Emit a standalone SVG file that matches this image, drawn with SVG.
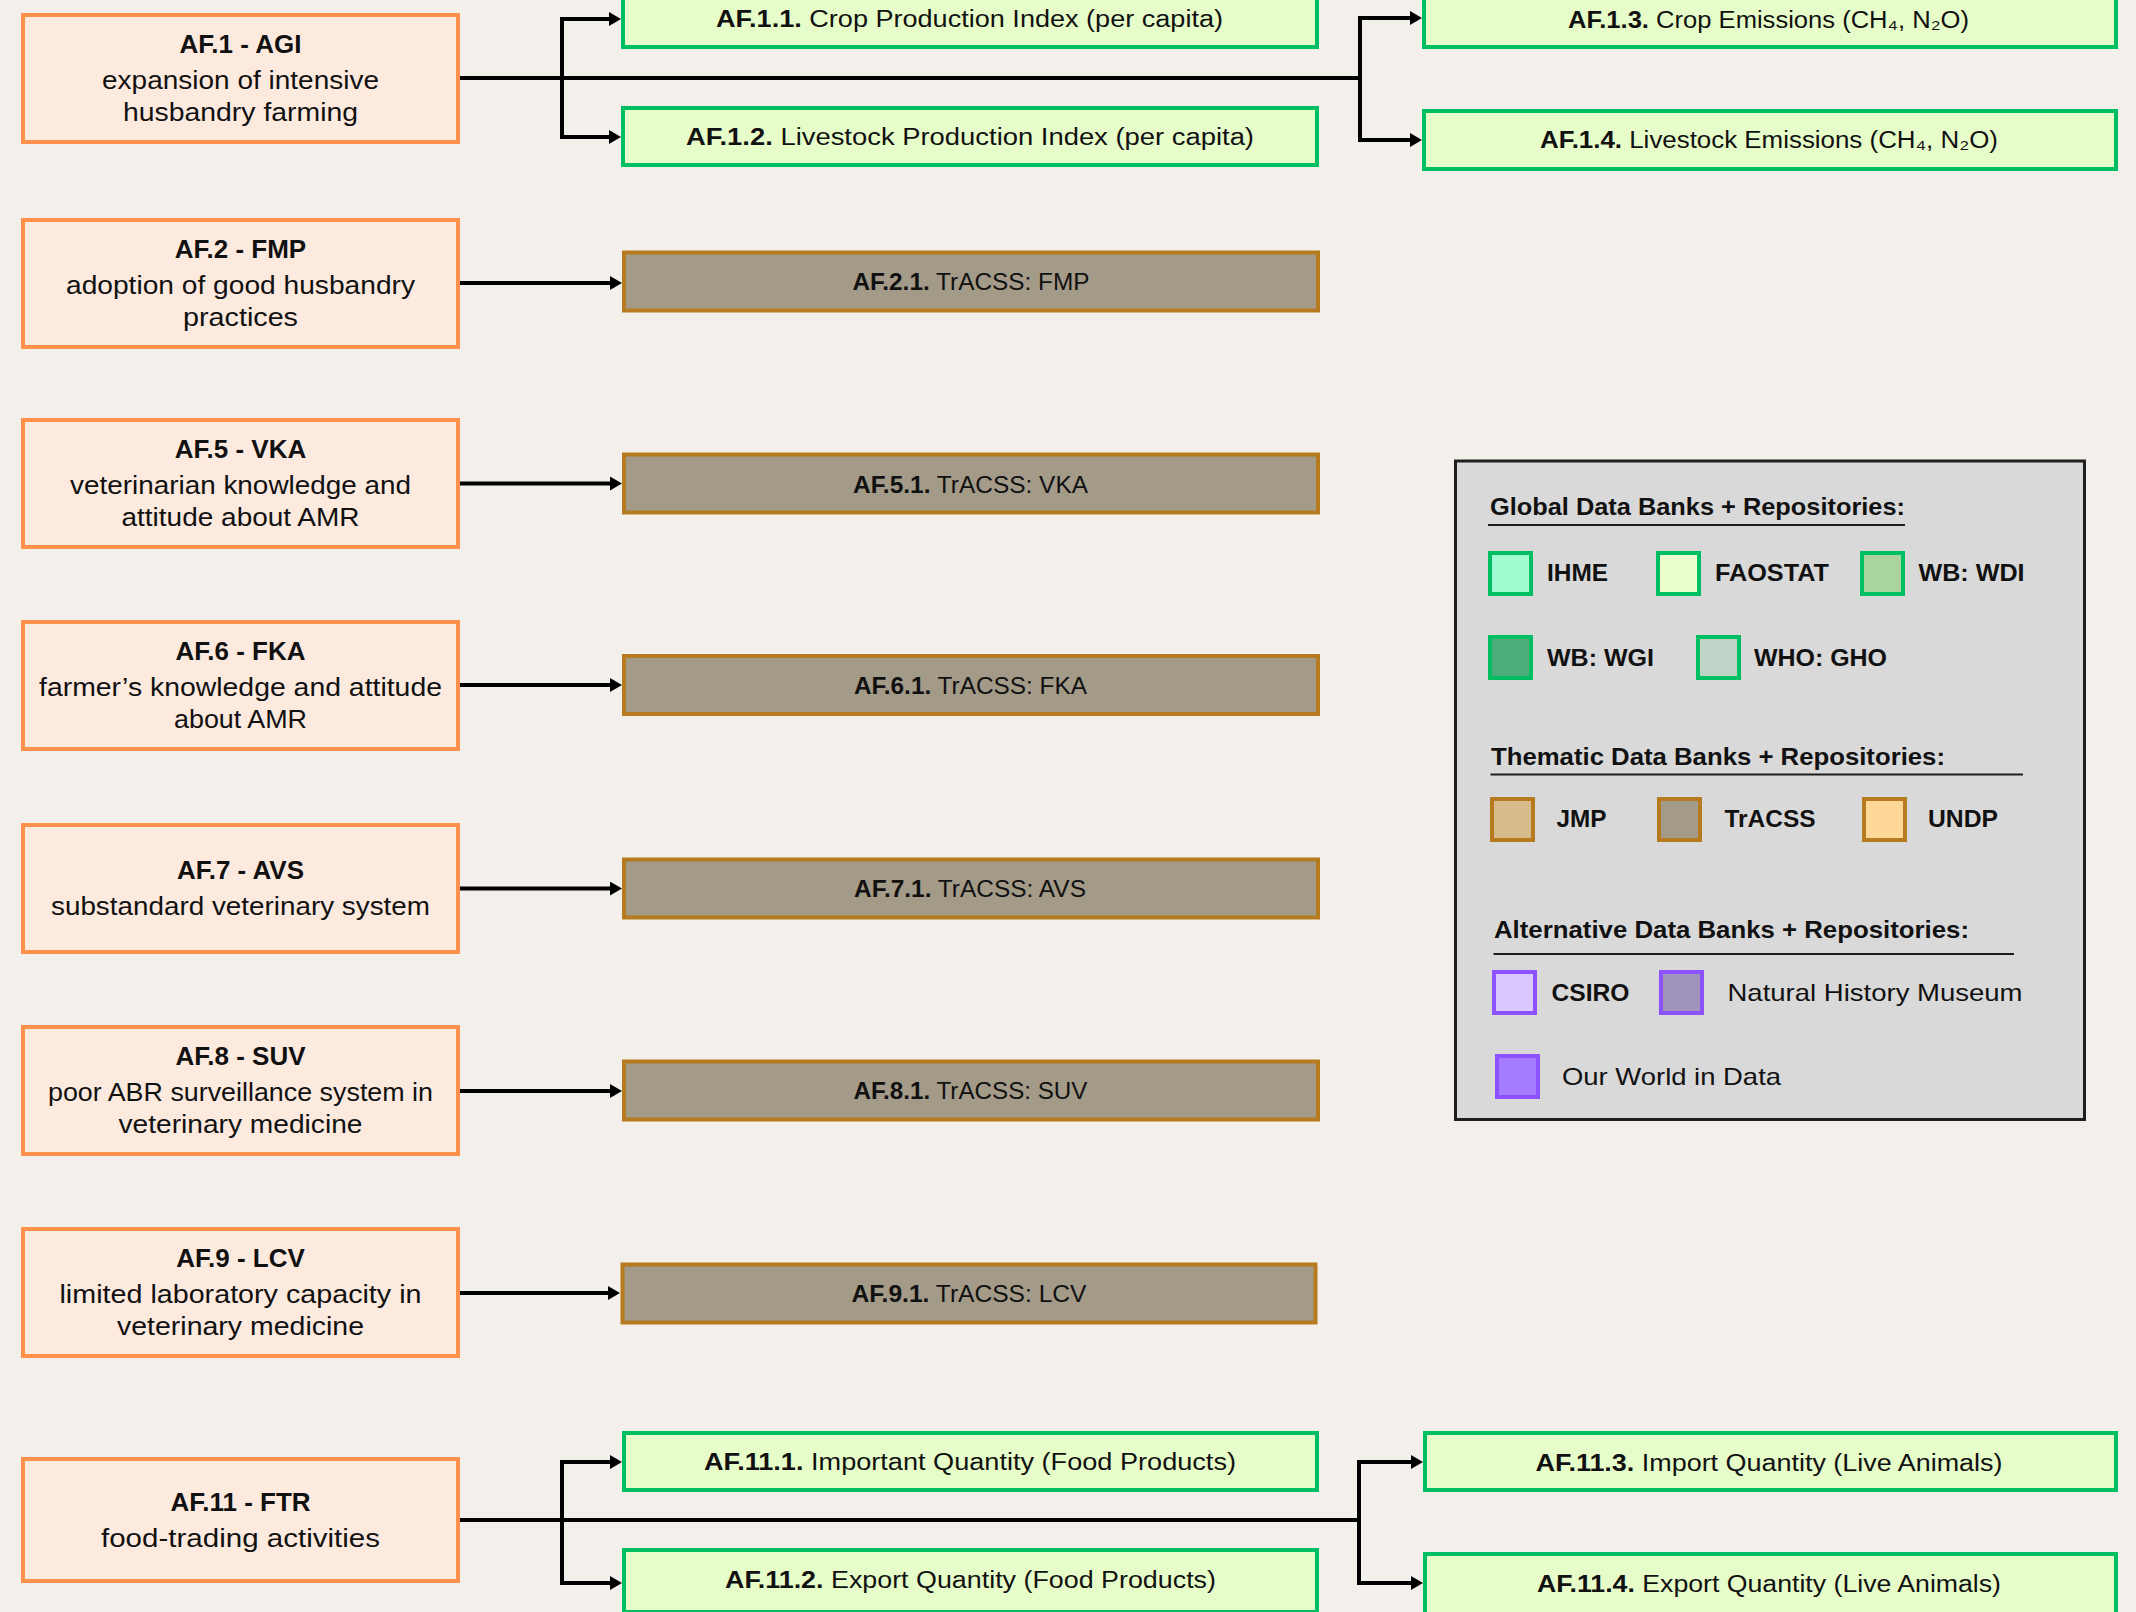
<svg xmlns="http://www.w3.org/2000/svg" width="2136" height="1612" viewBox="0 0 2136 1612">
<defs>
<style>
.bg{fill:#f3f0eb}
.src{fill:#fdeadf;stroke:#ff914d;stroke-width:4}
.fao{fill:#e7fdc9;stroke:#00bf63;stroke-width:4}
.tra{fill:#a39a88;stroke:#b67b1f;stroke-width:4}
.t{font-family:"Liberation Sans",Arial,sans-serif;fill:#111}
.ttl{font-size:26px;font-weight:bold;text-anchor:middle}
.body{font-size:26px;text-anchor:middle}
.ind{font-size:23px;text-anchor:middle}
.b{font-weight:bold}
.conn{fill:none;stroke:#000;stroke-width:4}
.arr{marker-end:url(#ah)}
.arr2{marker-start:url(#ah);marker-end:url(#ah)}
.leg{fill:#d9d9d9;stroke:#1e1e1e;stroke-width:3}
.lh{font-size:24px;font-weight:bold}
.ll{font-size:23px;font-weight:bold}
.lr{font-size:24px}
.ul{stroke:#1e1e1e;stroke-width:2}
.sg{stroke:#00bf63;stroke-width:4}
.sb{stroke:#b67b1f;stroke-width:4}
.sp{stroke:#8c52ff;stroke-width:4}
</style>
<marker id="ah" markerUnits="userSpaceOnUse" viewBox="0 0 12 14" markerWidth="12" markerHeight="14" refX="2" refY="7" orient="auto-start-reverse">
<path d="M0,0 L12,7 L0,14 z" fill="#000"/>
</marker>
</defs>
<rect class="bg" x="0" y="0" width="2136" height="1612"/>

<g id="connectors">
<path class="conn" d="M460,78 H1360"/>
<path class="conn arr2" d="M611,19 H562 V137 H611"/>
<path class="conn arr2" d="M1412,18 H1360 V140 H1412"/>
<path class="conn arr" d="M460,283 H612"/>
<path class="conn arr" d="M460,483.5 H612"/>
<path class="conn arr" d="M460,685 H612"/>
<path class="conn arr" d="M460,888.5 H612"/>
<path class="conn arr" d="M460,1091 H612"/>
<path class="conn arr" d="M459,1293 H610"/>
<path class="conn" d="M459,1520 H1359"/>
<path class="conn arr2" d="M612,1462 H562 V1583 H612"/>
<path class="conn arr2" d="M1413,1462 H1359 V1583 H1413"/>
</g>

<g id="AF1">
<rect class="src" x="23" y="15" width="435" height="127"/>
<text class="t ttl" x="240.5" y="53">AF.1 - AGI</text>
<text class="t body" x="240.5" y="89" textLength="277" lengthAdjust="spacingAndGlyphs">expansion of intensive</text>
<text class="t body" x="240.5" y="121" textLength="235" lengthAdjust="spacingAndGlyphs">husbandry farming</text>
</g>
<g id="AF2">
<rect class="src" x="23" y="220" width="435" height="127"/>
<text class="t ttl" x="240.5" y="258">AF.2 - FMP</text>
<text class="t body" x="240.5" y="294" textLength="349" lengthAdjust="spacingAndGlyphs">adoption of good husbandry</text>
<text class="t body" x="240.5" y="326" textLength="115" lengthAdjust="spacingAndGlyphs">practices</text>
</g>
<g id="AF5">
<rect class="src" x="23" y="420" width="435" height="127"/>
<text class="t ttl" x="240.5" y="458">AF.5 - VKA</text>
<text class="t body" x="240.5" y="494" textLength="341" lengthAdjust="spacingAndGlyphs">veterinarian knowledge and</text>
<text class="t body" x="240.5" y="526" textLength="238" lengthAdjust="spacingAndGlyphs">attitude about AMR</text>
</g>
<g id="AF6">
<rect class="src" x="23" y="622" width="435" height="127"/>
<text class="t ttl" x="240.5" y="660">AF.6 - FKA</text>
<text class="t body" x="240.5" y="696" textLength="403" lengthAdjust="spacingAndGlyphs">farmer’s knowledge and attitude</text>
<text class="t body" x="240.5" y="728" textLength="133" lengthAdjust="spacingAndGlyphs">about AMR</text>
</g>
<g id="AF7">
<rect class="src" x="23" y="825" width="435" height="127"/>
<text class="t ttl" x="240.5" y="879">AF.7 - AVS</text>
<text class="t body" x="240.5" y="915" textLength="379" lengthAdjust="spacingAndGlyphs">substandard veterinary system</text>
</g>
<g id="AF8">
<rect class="src" x="23" y="1027" width="435" height="127"/>
<text class="t ttl" x="240.5" y="1065">AF.8 - SUV</text>
<text class="t body" x="240.5" y="1101" textLength="385" lengthAdjust="spacingAndGlyphs">poor ABR surveillance system in</text>
<text class="t body" x="240.5" y="1133" textLength="244" lengthAdjust="spacingAndGlyphs">veterinary medicine</text>
</g>
<g id="AF9">
<rect class="src" x="23" y="1229" width="435" height="127"/>
<text class="t ttl" x="240.5" y="1267">AF.9 - LCV</text>
<text class="t body" x="240.5" y="1303" textLength="362" lengthAdjust="spacingAndGlyphs">limited laboratory capacity in</text>
<text class="t body" x="240.5" y="1335" textLength="247" lengthAdjust="spacingAndGlyphs">veterinary medicine</text>
</g>
<g id="AF11">
<rect class="src" x="23" y="1459" width="435" height="122"/>
<text class="t ttl" x="240.5" y="1511">AF.11 - FTR</text>
<text class="t body" x="240.5" y="1547" textLength="279" lengthAdjust="spacingAndGlyphs">food-trading activities</text>
</g>

<g id="AF1.1">
<rect class="fao" x="623" y="-11" width="694" height="58"/>
<text class="t ind" x="969.5" y="27" textLength="507" lengthAdjust="spacingAndGlyphs"><tspan class="b">AF.1.1.</tspan> Crop Production Index (per capita)</text>
</g>
<g id="AF1.2">
<rect class="fao" x="623" y="108" width="694" height="57"/>
<text class="t ind" x="970" y="145" textLength="568" lengthAdjust="spacingAndGlyphs"><tspan class="b">AF.1.2.</tspan> Livestock Production Index (per capita)</text>
</g>
<g id="AF1.3">
<rect class="fao" x="1424" y="-11" width="692" height="58"/>
<text class="t ind" x="1768.5" y="28" textLength="401" lengthAdjust="spacingAndGlyphs"><tspan class="b">AF.1.3.</tspan> Crop Emissions (CH₄, N₂O)</text>
</g>
<g id="AF1.4">
<rect class="fao" x="1424" y="111" width="692" height="58"/>
<text class="t ind" x="1769" y="148" textLength="458" lengthAdjust="spacingAndGlyphs"><tspan class="b">AF.1.4.</tspan> Livestock Emissions (CH₄, N₂O)</text>
</g>

<g id="AF2.1">
<rect class="tra" x="624" y="252.5" width="694" height="58"/>
<text class="t ind" x="971" y="290" textLength="237" lengthAdjust="spacingAndGlyphs"><tspan class="b">AF.2.1.</tspan> TrACSS: FMP</text>
</g>
<g id="AF5.1">
<rect class="tra" x="624" y="454.5" width="694" height="58"/>
<text class="t ind" x="970.5" y="493" textLength="235" lengthAdjust="spacingAndGlyphs"><tspan class="b">AF.5.1.</tspan> TrACSS: VKA</text>
</g>
<g id="AF6.1">
<rect class="tra" x="624" y="656" width="694" height="58"/>
<text class="t ind" x="970.5" y="694" textLength="233" lengthAdjust="spacingAndGlyphs"><tspan class="b">AF.6.1.</tspan> TrACSS: FKA</text>
</g>
<g id="AF7.1">
<rect class="tra" x="624" y="859.5" width="694" height="58"/>
<text class="t ind" x="970" y="897" textLength="232" lengthAdjust="spacingAndGlyphs"><tspan class="b">AF.7.1.</tspan> TrACSS: AVS</text>
</g>
<g id="AF8.1">
<rect class="tra" x="624" y="1061.5" width="694" height="58"/>
<text class="t ind" x="970.5" y="1099" textLength="234" lengthAdjust="spacingAndGlyphs"><tspan class="b">AF.8.1.</tspan> TrACSS: SUV</text>
</g>
<g id="AF9.1">
<rect class="tra" x="622.5" y="1264.5" width="693" height="58"/>
<text class="t ind" x="969" y="1302" textLength="235" lengthAdjust="spacingAndGlyphs"><tspan class="b">AF.9.1.</tspan> TrACSS: LCV</text>
</g>

<g id="AF11.1">
<rect class="fao" x="624" y="1433" width="693" height="57"/>
<text class="t ind" x="970" y="1470" textLength="532" lengthAdjust="spacingAndGlyphs"><tspan class="b">AF.11.1.</tspan> Important Quantity (Food Products)</text>
</g>
<g id="AF11.2">
<rect class="fao" x="624" y="1550" width="693" height="62"/>
<text class="t ind" x="970.5" y="1588" textLength="491" lengthAdjust="spacingAndGlyphs"><tspan class="b">AF.11.2.</tspan> Export Quantity (Food Products)</text>
</g>
<g id="AF11.3">
<rect class="fao" x="1425" y="1433" width="691" height="57"/>
<text class="t ind" x="1769" y="1471" textLength="467" lengthAdjust="spacingAndGlyphs"><tspan class="b">AF.11.3.</tspan> Import Quantity (Live Animals)</text>
</g>
<g id="AF11.4">
<rect class="fao" x="1425" y="1554" width="691" height="62"/>
<text class="t ind" x="1769" y="1592" textLength="464" lengthAdjust="spacingAndGlyphs"><tspan class="b">AF.11.4.</tspan> Export Quantity (Live Animals)</text>
</g>

<g id="legend">
<rect class="leg" x="1455.5" y="461" width="629" height="658.5"/>
<text class="t lh" x="1490" y="515" textLength="415" lengthAdjust="spacingAndGlyphs">Global Data Banks + Repositories:</text>
<line class="ul" x1="1488" y1="525" x2="1905" y2="525"/>
<rect class="sg" x="1490" y="553" width="41" height="41" fill="#a2fcd2"/>
<text class="t ll" x="1547" y="581" textLength="61" lengthAdjust="spacingAndGlyphs">IHME</text>
<rect class="sg" x="1658" y="553" width="41" height="41" fill="#ebffcc"/>
<text class="t ll" x="1715" y="581" textLength="114" lengthAdjust="spacingAndGlyphs">FAOSTAT</text>
<rect class="sg" x="1862" y="553" width="41" height="41" fill="#a9d49b"/>
<text class="t ll" x="1918.5" y="581" textLength="106" lengthAdjust="spacingAndGlyphs">WB: WDI</text>
<rect class="sg" x="1490" y="637" width="41" height="41" fill="#4dac7c"/>
<text class="t ll" x="1547" y="665.5" textLength="107" lengthAdjust="spacingAndGlyphs">WB: WGI</text>
<rect class="sg" x="1698" y="637" width="41" height="41" fill="#bfd4c8"/>
<text class="t ll" x="1754" y="665.5" textLength="133" lengthAdjust="spacingAndGlyphs">WHO: GHO</text>

<text class="t lh" x="1491" y="765" textLength="454" lengthAdjust="spacingAndGlyphs">Thematic Data Banks + Repositories:</text>
<line class="ul" x1="1490.5" y1="774.5" x2="2023" y2="774.5"/>
<rect class="sb" x="1492" y="799" width="41" height="41" fill="#d7bb8b"/>
<text class="t ll" x="1556.5" y="827" textLength="50" lengthAdjust="spacingAndGlyphs">JMP</text>
<rect class="sb" x="1659" y="799" width="41" height="41" fill="#a39a88"/>
<text class="t ll" x="1724.5" y="827" textLength="91" lengthAdjust="spacingAndGlyphs">TrACSS</text>
<rect class="sb" x="1864" y="799" width="41" height="41" fill="#ffd899"/>
<text class="t ll" x="1928" y="827" textLength="70" lengthAdjust="spacingAndGlyphs">UNDP</text>

<text class="t lh" x="1494" y="938" textLength="475" lengthAdjust="spacingAndGlyphs">Alternative Data Banks + Repositories:</text>
<line class="ul" x1="1493.5" y1="954" x2="2014" y2="954"/>
<rect class="sp" x="1494" y="972" width="41" height="41" fill="#d8c8ff"/>
<text class="t ll" x="1551.5" y="1001" textLength="78" lengthAdjust="spacingAndGlyphs">CSIRO</text>
<rect class="sp" x="1661" y="972" width="41" height="41" fill="#a094bf"/>
<text class="t lr" x="1727.5" y="1001" textLength="295" lengthAdjust="spacingAndGlyphs">Natural History Museum</text>
<rect class="sp" x="1497" y="1056" width="41" height="41" fill="#a57bff"/>
<text class="t lr" x="1562" y="1085" textLength="219" lengthAdjust="spacingAndGlyphs">Our World in Data</text>
</g>
</svg>
